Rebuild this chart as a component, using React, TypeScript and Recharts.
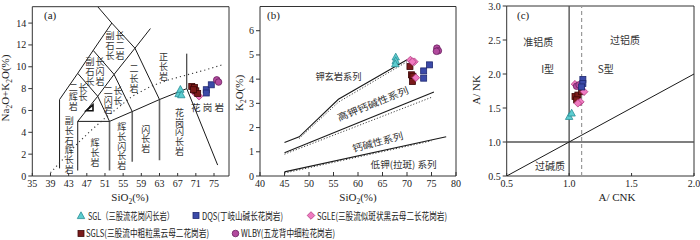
import React from 'react';
import { ComposedChart, XAxis, YAxis, Line, Scatter, ReferenceArea } from 'recharts';

const LATIN = "'Liberation Serif', 'Times New Roman', serif";
const CJK = "'Noto Sans CJK SC', 'Liberation Serif', serif";

type Pt = { x: number; y: number };
const pts = (arr: number[][]): Pt[] => arr.map(([x, y]) => ({ x, y }));

// ---------- (a) TAS diagram ----------
const tasXTicks = [35, 39, 43, 47, 51, 55, 59, 63, 67, 71, 75];
const tasYTicks = [0, 2, 4, 6, 8, 10, 12, 14];
const tasBlack = [
  [[41, 0.7], [41, 7], [45, 9.4], [48.4, 11.5], [52.5, 14]],
  [[49.4, 15.5], [52.5, 14], [57.6, 11.7], [63, 7]],
  [[45, 0.5], [45, 5], [52, 5], [57, 5.9], [63, 7], [69, 8], [75.8, 1]],
  [[45, 5], [49.4, 7.3], [53, 9.3], [57.6, 11.7], [61, 13.5]],
  [[45, 9.4], [49.4, 7.3], [52, 5]],
  [[48.4, 11.5], [53, 9.3], [57, 5.9]],
  [[69, 8], [69, 11.2]],
];
const tasGrey = [
  [[52, 0.5], [52, 5]],
  [[57, 1.3], [57, 5.9]],
  [[63, 1.45], [63, 7]],
];
const tasAlkaline = [
  [39, 0.3], [41, 1.2], [43, 2.1], [45, 3.0], [48, 4.2], [51, 5.3], [54, 6.3],
  [57, 7.3], [61, 8.2], [65, 8.8], [69, 9.25], [73, 9.7], [77, 10.2],
];
const aRockNames = [
  { x: 53.2, y: 11.9, cols: ['副石长', '长二岩'] },
  { x: 48.8, y: 9.5, cols: ['副石长', '长闪岩'] },
  { x: 45.1, y: 7.2, cols: ['二辉岩', '长长'] },
  { x: 52.8, y: 6.9, cols: ['二闪岩', '长长'] },
  { x: 57.4, y: 8.9, cols: ['二长岩'] },
  { x: 63.9, y: 10.0, cols: ['正长岩'] },
  { x: 43.15, y: 2.8, cols: ['副长石辉长岩'] },
  { x: 48.8, y: 2.1, cols: ['辉长岩'] },
  { x: 54.7, y: 2.7, cols: ['辉长闪长岩'] },
  { x: 60.0, y: 3.35, cols: ['闪长岩'] },
  { x: 67.4, y: 4.0, cols: ['花岗闪长岩'] },
];
const aFlatNames = [{ x: 73.8, y: 6.3, text: '花岗岩' }];

const sglA = [[67.2, 7.5], [67.6, 7.9], [67.8, 7.4]];
const sglsA = [[70.1, 8.2], [70.7, 8.1], [71.0, 7.8], [71.4, 7.55], [70.5, 7.9]];
const sgleA = [[71.1, 7.6], [71.7, 7.3], [70.6, 7.7]];
const dqsA = [[73.3, 7.9], [73.3, 7.6], [74.4, 8.35]];
const wlbyA = [[75.6, 8.8], [76.0, 8.6]];
const strayA = [[47.7, 6.2]];

// ---------- (b) SiO2 - K2O ----------
const kXTicks = [40, 45, 50, 55, 60, 65, 70, 75, 80];
const kYTicks = [0, 1, 2, 3, 4, 5, 6];
const pecSolid = [
  [[45, 1.38], [48, 1.62], [56, 3.17], [70, 4.8]],
  [[45, 0.96], [75.5, 3.47]],
  [[45, 0.17], [78, 1.62]],
];
const pecDotted = [
  [[48, 1.55], [56, 3.05], [70, 4.72]],
  [[45, 0.9], [75, 3.25]],
  [[45, 0.12], [75, 1.45]],
];
const bSeriesNames = [
  { x: 56.0, y: 4.13, text: '钾玄岩系列' },
  { x: 63.0, y: 3.0, text: '高钾钙碱性系列' },
  { x: 64.0, y: 1.42, text: '钙碱性系列' },
  { x: 69.3, y: 0.48, text: '低钾(拉斑) 系列' },
];

const sglB = [[67.7, 4.9], [67.7, 4.75], [67.6, 4.62]];
const sglsB = [[70.6, 4.52], [70.9, 4.18], [71.2, 4.12], [71.1, 3.9]];
const sgleB = [[70.7, 4.79], [71.5, 4.72], [71.8, 4.06], [71.1, 4.72]];
const dqsB = [[73.4, 4.34], [73.4, 4.04], [74.6, 4.59]];
const wlbyB = [[76.1, 5.28], [76.4, 5.17], [76.0, 5.15]];

// ---------- (c) A/CNK - A/NK ----------
const acnkXTicks = [0.5, 1.0, 1.5, 2.0];
const acnkYTicks = [0.5, 1.0, 1.5, 2.0, 2.5, 3.0];
const acnkGrey = [
  [[1, 0.5], [1, 3]],
  [[0.5, 1], [2, 1]],
];
const acnkDashed = [[1.1, 0.5], [1.1, 3]];
const acnkDiag = [[0.5, 0.5], [2, 2]];
const cFieldNames = [
  { x: 0.753, y: 2.475, text: '准铝质' },
  { x: 1.447, y: 2.51, text: '过铝质' },
  { x: 0.828, y: 2.08, text: 'I型' },
  { x: 1.293, y: 2.08, text: 'S型' },
  { x: 0.847, y: 0.66, text: '过碱质' },
];

const sglC = [[1.0, 1.37], [1.02, 1.42]];
const sglsC = [[1.047, 1.67], [1.07, 1.69], [1.1, 1.74], [1.06, 1.62]];
const sgleC = [[1.047, 1.85], [1.12, 1.74], [1.09, 1.59], [1.07, 1.57]];
const dqsC = [[1.11, 1.92], [1.11, 1.86], [1.1, 1.81]];
const wlbyC = [[1.06, 1.82], [1.08, 1.84]];

// ---------- marker shapes ----------
const COL = {
  sgl: ['#5ccdd0', '#2b8e96'],
  dqs: ['#3b4aa8', '#1f2870'],
  sgle: ['#f07ac0', '#b03e82'],
  sgls: ['#7a1a1a', '#3d0808'],
  wlby: ['#b24a9e', '#6a2060'],
};

function Tri({ cx, cy }: { cx: number; cy: number }) {
  return (
    <polygon
      points={`${cx},${cy - 4.2} ${cx + 3.7},${cy + 2.6} ${cx - 3.7},${cy + 2.6}`}
      fill={COL.sgl[0]}
      stroke={COL.sgl[1]}
      strokeWidth={0.8}
    />
  );
}
function Sq({ cx, cy, c }: { cx: number; cy: number; c: string[] }) {
  return <rect x={cx - 3} y={cy - 3} width={6} height={6} fill={c[0]} stroke={c[1]} strokeWidth={0.8} />;
}
function Dia({ cx, cy }: { cx: number; cy: number }) {
  return (
    <polygon
      points={`${cx},${cy - 3.8} ${cx + 3.8},${cy} ${cx},${cy + 3.8} ${cx - 3.8},${cy}`}
      fill={COL.sgle[0]}
      stroke={COL.sgle[1]}
      strokeWidth={0.8}
    />
  );
}
function Dot({ cx, cy }: { cx: number; cy: number }) {
  return <circle cx={cx} cy={cy} r={3.3} fill={COL.wlby[0]} stroke={COL.wlby[1]} strokeWidth={0.8} />;
}
function Stray({ cx, cy }: { cx: number; cy: number }) {
  return (
    <polygon
      points={`${cx - 4},${cy + 2.5} ${cx + 3},${cy - 3.5} ${cx + 3},${cy + 2.5}`}
      fill="#fff"
      stroke="#111"
      strokeWidth={1.6}
    />
  );
}

// rock names written top-to-bottom, columns read left to right
function VName({ cx, cy, cols }: { cx: number; cy: number; cols: string[] }) {
  const fs = 9;
  const sp = 9.8;
  const cg = 9.8;
  const maxLen = Math.max(...cols.map((c) => c.length));
  const x0 = cx - ((cols.length - 1) * cg) / 2;
  const top = cy - (maxLen * sp) / 2;
  return (
    <g>
      {cols.map((col, i) => (
        <text
          key={i}
          x={x0 + i * cg}
          y={top}
          textAnchor="start"
          fontSize={fs}
          fontFamily={CJK}
          fill="#333"
          letterSpacing={sp - fs}
          style={{ writingMode: 'vertical-rl' }}
        >
          {col}
        </text>
      ))}
    </g>
  );
}

function HName({ cx, cy, text, angle = 0, len, fs = 9.5, gap = 0 }: any) {
  return (
    <text
      x={cx}
      y={cy}
      textAnchor="middle"
      dominantBaseline="central"
      fontSize={fs}
      fontFamily={CJK}
      fill="#333"
      letterSpacing={gap || undefined}
      textLength={len}
      lengthAdjust={len ? 'spacingAndGlyphs' : undefined}
      transform={angle ? `rotate(${angle} ${cx} ${cy})` : undefined}
    >
      {text}
    </text>
  );
}

const bAngles = [0, -22, -15, 0];
const bLengths = [46, 76, 52, 66];

const tickStyle = { fill: '#222', fontSize: 10, fontFamily: LATIN };

function lines(list: number[][][], stroke: string, width: number, prefix: string, dash?: string) {
  return list.map((l, i) => (
    <Line
      key={`${prefix}${i}`}
      data={pts(l)}
      dataKey="y"
      type="linear"
      stroke={stroke}
      strokeWidth={width}
      strokeDasharray={dash}
      dot={false}
      activeDot={false}
      legendType="none"
      isAnimationActive={false}
    />
  ));
}

function marks(data: number[][], kind: string, key: string) {
  const shape = (p: any) => {
    if (kind === 'tri') return <Tri cx={p.cx} cy={p.cy} />;
    if (kind === 'dqs') return <Sq cx={p.cx} cy={p.cy} c={COL.dqs} />;
    if (kind === 'sgls') return <Sq cx={p.cx} cy={p.cy} c={COL.sgls} />;
    if (kind === 'dia') return <Dia cx={p.cx} cy={p.cy} />;
    if (kind === 'dot') return <Dot cx={p.cx} cy={p.cy} />;
    return <Stray cx={p.cx} cy={p.cy} />;
  };
  return <Scatter key={key} data={pts(data)} shape={shape} isAnimationActive={false} legendType="none" />;
}

function PanelA() {
  return (
    <ComposedChart width={235} height={205} margin={{ top: 6.7, right: 6, bottom: 3, left: 10.3 }}>
      <XAxis
        type="number"
        dataKey="x"
        domain={[35, 78.3]}
        allowDataOverflow
        ticks={tasXTicks}
        interval={0}
        height={26}
        tick={tickStyle}
        tickSize={-3}
        tickMargin={7}
        axisLine={false}
        tickLine={{ stroke: '#333' }}
      />
      <YAxis
        type="number"
        dataKey="y"
        domain={[0, 15.5]}
        allowDataOverflow
        ticks={tasYTicks}
        interval={0}
        width={22}
        tick={tickStyle}
        tickSize={4}
        tickMargin={2}
        axisLine={false}
        tickLine={{ stroke: '#333' }}
      />
      <ReferenceArea x1={35} x2={78.3} y1={0} y2={15.5} fill="none" stroke="#333" strokeWidth={1} />
      {lines(tasGrey, '#666', 1.6, 'g')}
      {lines(tasBlack, '#1a1a1a', 1, 'k')}
      {lines([tasAlkaline], '#333', 1.1, 'd', '1.2 3')}
      <Scatter
        data={aRockNames}
        shape={(p: any) => <VName cx={p.cx} cy={p.cy} cols={aRockNames[p.index].cols} />}
        isAnimationActive={false}
        legendType="none"
      />
      <Scatter
        data={aFlatNames}
        shape={(p: any) => <HName cx={p.cx} cy={p.cy} text={aFlatNames[p.index].text} gap={2.2} />}
        isAnimationActive={false}
        legendType="none"
      />
      {marks(strayA, 'stray', 'st')}
      {marks(sglA, 'tri', 'sgl')}
      {marks(dqsA, 'dqs', 'dqs')}
      {marks(sgleA, 'dia', 'sgle')}
      {marks(sglsA, 'sgls', 'sgls')}
      {marks(wlbyA, 'dot', 'wlby')}
    </ComposedChart>
  );
}

function PanelB() {
  return (
    <ComposedChart width={230} height={205} margin={{ top: 6.5, right: 9, bottom: 3, left: 5 }}>
      <XAxis
        type="number"
        dataKey="x"
        domain={[40, 80]}
        allowDataOverflow
        ticks={kXTicks}
        interval={0}
        height={26}
        tick={tickStyle}
        tickSize={-4}
        tickMargin={8}
        axisLine={false}
        tickLine={{ stroke: '#333' }}
      />
      <YAxis
        type="number"
        dataKey="y"
        domain={[0, 7]}
        allowDataOverflow
        ticks={kYTicks}
        interval={0}
        width={20}
        tick={tickStyle}
        tickSize={4}
        tickMargin={2}
        axisLine={false}
        tickLine={{ stroke: '#333' }}
      />
      <ReferenceArea x1={40} x2={80} y1={0} y2={7} fill="none" stroke="#333" strokeWidth={1} />
      {lines(pecDotted, '#444', 1, 'd', '1.2 1.8')}
      {lines(pecSolid, '#1a1a1a', 1.1, 's')}
      <Scatter
        data={bSeriesNames}
        shape={(p: any) => (
          <HName cx={p.cx} cy={p.cy} text={bSeriesNames[p.index].text} angle={bAngles[p.index]} len={bLengths[p.index]} />
        )}
        isAnimationActive={false}
        legendType="none"
      />
      {marks(sglB, 'tri', 'sgl')}
      {marks(dqsB, 'dqs', 'dqs')}
      {marks(sglsB, 'sgls', 'sgls')}
      {marks(sgleB, 'dia', 'sgle')}
      {marks(wlbyB, 'dot', 'wlby')}
    </ComposedChart>
  );
}

function PanelC() {
  return (
    <ComposedChart width={235} height={205} margin={{ top: 6, right: 6, bottom: 3, left: 13.7 }}>
      <XAxis
        type="number"
        dataKey="x"
        domain={[0.5, 2]}
        allowDataOverflow
        ticks={acnkXTicks}
        interval={0}
        height={26}
        tick={tickStyle}
        tickSize={-3}
        tickMargin={7}
        tickFormatter={(v: number) => v.toFixed(1)}
        axisLine={false}
        tickLine={{ stroke: '#333' }}
      />
      <YAxis
        type="number"
        dataKey="y"
        domain={[0.5, 3]}
        allowDataOverflow
        ticks={acnkYTicks}
        interval={0}
        width={28}
        tick={tickStyle}
        tickSize={4}
        tickMargin={2}
        tickFormatter={(v: number) => v.toFixed(1)}
        axisLine={false}
        tickLine={{ stroke: '#333' }}
      />
      <ReferenceArea x1={0.5} x2={2} y1={0.5} y2={3} fill="none" stroke="#333" strokeWidth={1} />
      {lines(acnkGrey, '#555', 1.4, 'g')}
      {lines([acnkDashed], '#9a9a9a', 1.2, 'd', '4 3')}
      {lines([acnkDiag], '#1a1a1a', 1, 'k')}
      <Scatter
        data={cFieldNames}
        shape={(p: any) => <HName cx={p.cx} cy={p.cy} text={cFieldNames[p.index].text} fs={10} />}
        isAnimationActive={false}
        legendType="none"
      />
      {marks(sglC, 'tri', 'sgl')}
      {marks(sglsC, 'sgls', 'sgls')}
      {marks(sgleC, 'dia', 'sgle')}
      {marks(wlbyC, 'dot', 'wlby')}
      {marks(dqsC, 'dqs', 'dqs')}
    </ComposedChart>
  );
}

function Sub({ children }: { children: string }) {
  return (
    <tspan fontSize={7.5} dy={2.5}>
      {children}
    </tspan>
  );
}

function Overlay() {
  const t = { fontFamily: LATIN, fontSize: 11, fill: '#222' };
  const lg = { fontFamily: CJK, fontSize: 10, fill: '#222', lengthAdjust: 'spacingAndGlyphs' as const };
  return (
    <svg width={700} height={240} style={{ position: 'absolute', left: 0, top: 0 }}>
      {/* panel tags */}
      <text x={44} y={19} {...t}>(a)</text>
      <text x={267} y={19} {...t}>(b)</text>
      <text x={517} y={19} {...t}>(c)</text>
      {/* axis titles */}
      <text x={130} y={201} textAnchor="middle" {...t}>
        SiO<Sub>2</Sub><tspan dy={-2.5}>(%)</tspan>
      </text>
      <text x={358} y={201} textAnchor="middle" {...t}>
        SiO<Sub>2</Sub><tspan dy={-2.5}>(%)</tspan>
      </text>
      <text x={617} y={201} textAnchor="middle" {...t}>A/ CNK</text>
      <text transform="translate(9,88) rotate(-90)" textAnchor="middle" {...t}>
        Na<Sub>2</Sub><tspan dy={-2.5}>O+K</tspan><Sub>2</Sub><tspan dy={-2.5}>O(%)</tspan>
      </text>
      <text transform="translate(243,93) rotate(-90)" textAnchor="middle" {...t}>
        K<Sub>2</Sub><tspan dy={-2.5}>O(%)</tspan>
      </text>
      <text transform="translate(480,90) rotate(-90)" textAnchor="middle" {...t}>A/ NK</text>
      {/* legend */}
      <Tri cx={81} cy={216} />
      <text x={88} y={219.5} {...lg} textLength={86}>SGL（三股流花岗闪长岩）</text>
      <Sq cx={196} cy={215.5} c={COL.dqs} />
      <text x={202} y={219.5} {...lg} textLength={81}>DQS(丁岐山碱长花岗岩)</text>
      <Dia cx={311} cy={215.5} />
      <text x={317} y={219.5} {...lg} textLength={130}>SGLE(三股流似斑状黑云母二长花岗岩)</text>
      <Sq cx={81} cy={233.5} c={COL.sgls} />
      <text x={86} y={237} {...lg} textLength={123}>SGLS(三股流中粗粒黑云母二花岗岩)</text>
      <Dot cx={235.5} cy={233.5} />
      <text x={241} y={237} {...lg} textLength={94}>WLBY(五龙背中细粒花岗岩)</text>
    </svg>
  );
}

export default function App() {
  return (
    <div style={{ position: 'relative', width: 700, height: 240, background: '#fff', overflow: 'hidden' }}>
      <style>{'body{margin:0}'}</style>
      <div style={{ position: 'absolute', left: 0, top: 0 }}>
        <PanelA />
      </div>
      <div style={{ position: 'absolute', left: 235, top: 0 }}>
        <PanelB />
      </div>
      <div style={{ position: 'absolute', left: 465, top: 0 }}>
        <PanelC />
      </div>
      <Overlay />
    </div>
  );
}
